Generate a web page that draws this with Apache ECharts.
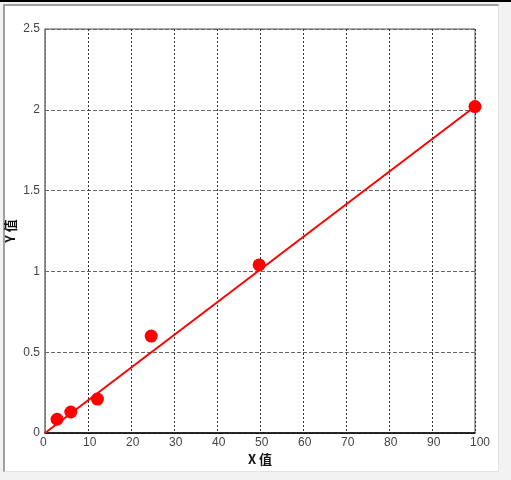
<!DOCTYPE html>
<html>
<head>
<meta charset="utf-8">
<script src="https://cdn.jsdelivr.net/npm/echarts@6/dist/echarts.min.js"></script>
<style>
  html, body { margin: 0; padding: 0; width: 511px; height: 480px; background: #f2f2f2; overflow: hidden; }
  #topbar { position: absolute; left: 0; top: 0; width: 511px; height: 2px; background: #000; }
  #panel { position: absolute; left: 3px; top: 4px; width: 496px; height: 468px; background: #fff;
           border-left: 2px solid #a0a0a0; border-top: 2px solid #a0a0a0;
           border-right: 1px solid #e2e2e2; border-bottom: 1px solid #e2e2e2; box-sizing: border-box; }
  #chart { position: absolute; left: 0; top: 0; width: 511px; height: 480px; }
</style>
</head>
<body>
<div id="topbar"></div>
<div id="panel"></div>
<div id="chart"></div>
<script>
// Measured data points
const xValues = [2.8, 6.0, 12.2, 24.7, 49.8, 100];
const yValues = [0.085, 0.13, 0.21, 0.60, 1.04, 2.02];
// Fitted line end points
const lineX = [0, 100];
const lineY = [0, 2.02];
const xAxisName = 'X 值';
const yAxisName = 'Y 值';

const scatterData = xValues.map((x, i) => [x, yValues[i]]);
const lineData = lineX.map((x, i) => [x, lineY[i]]);

const chart = echarts.init(document.getElementById('chart'), null, { renderer: 'canvas' });
const labelFont = { color: '#444', fontSize: 12, fontFamily: 'Liberation Sans' };
chart.setOption({
  backgroundColor: 'transparent',
  animation: false,
  grid: { left: 45, right: 36, top: 29, bottom: 47, show: true, borderColor: '#555', borderWidth: 1,
          containLabel: false, outerBoundsMode: 'none' },
  xAxis: {
    type: 'value', min: 0, max: 100, interval: 10,
    name: xAxisName, nameLocation: 'middle', nameGap: 20, nameMoveOverlap: false,
    nameTextStyle: { color: '#111', fontSize: 13, fontWeight: 'bold', fontFamily: 'Noto Sans CJK SC' },
    axisLine: { show: true, lineStyle: { color: '#000', width: 1.5 } },
    axisTick: { show: false },
    axisLabel: Object.assign({ margin: 4, align: 'left', padding: [0, 0, 0, -5] }, labelFont),
    splitLine: { show: true, lineStyle: { color: '#333', type: [2, 2], width: 1 } }
  },
  yAxis: {
    type: 'value', min: 0, max: 2.5, interval: 0.5,
    name: yAxisName, nameLocation: 'middle', nameGap: 28, nameRotate: 90, nameMoveOverlap: false,
    nameTextStyle: { color: '#111', fontSize: 13, fontWeight: 'bold', fontFamily: 'Noto Sans CJK SC' },
    axisLine: { show: true, lineStyle: { color: '#888', width: 1.5 } },
    axisTick: { show: false },
    axisLabel: Object.assign({ margin: 5 }, labelFont),
    splitLine: { show: true, lineStyle: { color: '#666', type: [4, 2], width: 1 } }
  },
  series: [
    {
      type: 'line', data: lineData, showSymbol: false, symbol: 'none',
      lineStyle: { color: '#ff0000', width: 2 }, z: 3
    },
    {
      type: 'scatter', data: scatterData, symbol: 'circle', symbolSize: 13,
      itemStyle: { color: '#ff0000', opacity: 1 }, z: 4
    }
  ]
});
</script>
</body>
</html>
